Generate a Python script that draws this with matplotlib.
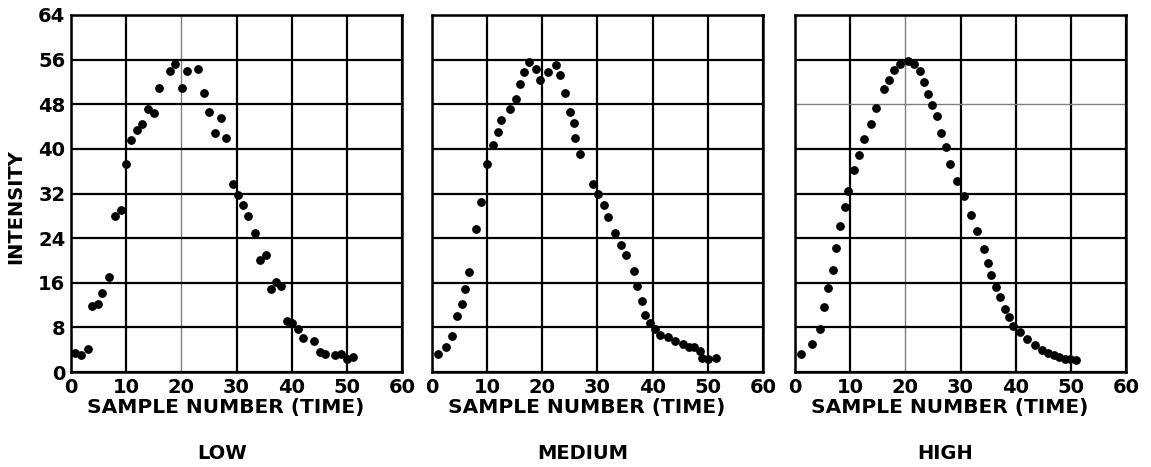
import numpy as np
import matplotlib.pyplot as plt

plt.rcParams['font.family'] = ['DejaVu Sans']
plt.rcParams['font.weight'] = 'bold'

# LOW panel
low_x = [0.7, 1.9, 3.0, 3.8, 4.9, 5.7, 6.9, 7.9, 9.0, 9.9, 10.9, 12.0, 12.9, 14.0,
         15.0, 16.0, 18.0, 18.9, 20.1, 21.1, 23.0, 24.1, 25.1, 26.1, 27.2, 28.1,
         29.3, 30.3, 31.2, 32.0, 33.3, 34.3, 35.3, 36.2, 37.1, 38.1, 39.1, 40.1,
         41.2, 42.1, 44.1, 45.1, 46.1, 47.9, 48.9, 50.0, 51.1]
low_y = [3.4, 3.1, 4.2, 11.9, 12.2, 14.2, 17.1, 27.9, 29.1, 37.3, 41.6, 43.4, 44.5, 47.1,
         46.5, 50.9, 53.9, 55.2, 50.9, 53.9, 54.3, 50.1, 46.6, 42.9, 45.6, 42.0,
         33.7, 31.8, 30.0, 27.9, 25.0, 20.0, 20.9, 14.8, 16.1, 15.5, 9.1, 8.7,
         7.8, 6.1, 5.6, 3.5, 3.3, 3.1, 3.3, 2.3, 2.7]

# MEDIUM panel
med_x = [1.1, 2.6, 3.7, 4.6, 5.5, 6.0, 6.7, 8.0, 8.9, 10.0, 11.1, 11.9, 12.6, 14.1,
         15.2, 15.9, 16.7, 17.5, 18.9, 19.6, 21.1, 22.4, 23.2, 24.1, 25.1, 25.7,
         26.0, 26.9, 29.2, 30.1, 31.1, 31.9, 33.1, 34.2, 35.1, 36.6, 37.2, 38.1,
         38.6, 39.6, 40.5, 41.4, 42.8, 44.1, 45.5, 46.6, 47.5, 48.6, 49.0, 50.0, 51.4]
med_y = [3.3, 4.5, 6.5, 10.0, 12.2, 14.8, 17.9, 25.7, 30.4, 37.3, 40.7, 43.1, 45.1, 47.1,
         49.0, 51.6, 53.7, 55.5, 54.4, 52.3, 53.8, 55.0, 53.2, 50.0, 46.6, 44.7,
         42.0, 39.1, 33.7, 31.9, 30.0, 27.8, 24.9, 22.8, 20.9, 18.1, 15.4, 12.7,
         10.3, 8.7, 7.8, 6.7, 6.3, 5.6, 5.1, 4.5, 4.4, 3.7, 2.6, 2.3, 2.5]

# HIGH panel
high_x = [1.1, 3.0, 4.5, 5.3, 5.9, 6.8, 7.5, 8.1, 9.0, 9.6, 10.7, 11.6, 12.5, 13.7,
          14.7, 16.1, 17.0, 17.9, 19.0, 20.4, 21.6, 22.6, 23.4, 24.1, 24.9, 25.7,
          26.5, 27.4, 28.1, 29.4, 30.6, 31.9, 33.0, 34.2, 34.9, 35.6, 36.4, 37.1,
          38.1, 38.8, 39.6, 40.7, 42.1, 43.5, 44.8, 45.8, 46.9, 47.9, 48.9, 49.9, 50.9]
high_y = [3.3, 5.1, 7.8, 11.6, 15.1, 18.3, 22.2, 26.1, 29.6, 32.4, 36.2, 38.9, 41.8, 44.5,
          47.3, 50.7, 52.4, 54.1, 55.2, 55.8, 55.2, 53.9, 51.9, 49.9, 47.9, 45.9,
          42.9, 40.3, 37.2, 34.3, 31.5, 28.1, 25.2, 22.0, 19.6, 17.4, 15.3, 13.4,
          11.3, 9.9, 8.2, 7.2, 6.0, 4.8, 4.0, 3.4, 3.0, 2.7, 2.4, 2.3, 2.1]

panels = [("LOW", low_x, low_y), ("MEDIUM", med_x, med_y), ("HIGH", high_x, high_y)]
x_ticks = [0, 10, 20, 30, 40, 50, 60]
y_ticks = [0, 8, 16, 24, 32, 40, 48, 56, 64]

fig = plt.figure(figsize=(11.51, 4.67), dpi=100)
lefts = [0.0617, 0.3753, 0.6907]

for i, (name, xs, ys) in enumerate(panels):
    ax = fig.add_axes([lefts[i], 0.2034, 0.2876, 0.7645])
    ax.set_xlim(0, 60)
    ax.set_ylim(0, 64)
    ax.set_xticks(x_ticks)
    ax.set_yticks(y_ticks)
    ax.grid(True, color='black', linewidth=1.6)
    # faded lines in the scanned original
    if i in (0, 2):
        ax.get_xgridlines()[2].set_color('0.5')
        ax.get_xgridlines()[2].set_linewidth(1.0)
    if i == 2:
        ax.get_ygridlines()[6].set_color('0.5')
        ax.get_ygridlines()[6].set_linewidth(1.0)
    ax.set_axisbelow(True)
    ax.tick_params(length=0, labelsize=14, pad=4)
    for s in ax.spines.values():
        s.set_linewidth(1.8)
    ax.scatter(xs, ys, s=28, color='black', zorder=3)
    ax.set_xlabel("SAMPLE NUMBER (TIME)", fontsize=14.5, fontweight='bold', labelpad=1)
    ax.xaxis.label.set_x(0.467)
    if i == 0:
        ax.set_ylabel("INTENSITY", fontsize=14, fontweight='bold', labelpad=9)
        ax.yaxis.label.set_y(0.464)
        ax.set_yticklabels([str(v) for v in y_ticks], fontweight='bold')
    else:
        ax.set_yticklabels([])
    ax.set_xticklabels([str(v) for v in x_ticks], fontweight='bold')
    ax.text(0.455, -0.227, name, transform=ax.transAxes, ha='center', va='center',
            fontsize=14, fontweight='bold')

plt.savefig("out.png", dpi=100)
